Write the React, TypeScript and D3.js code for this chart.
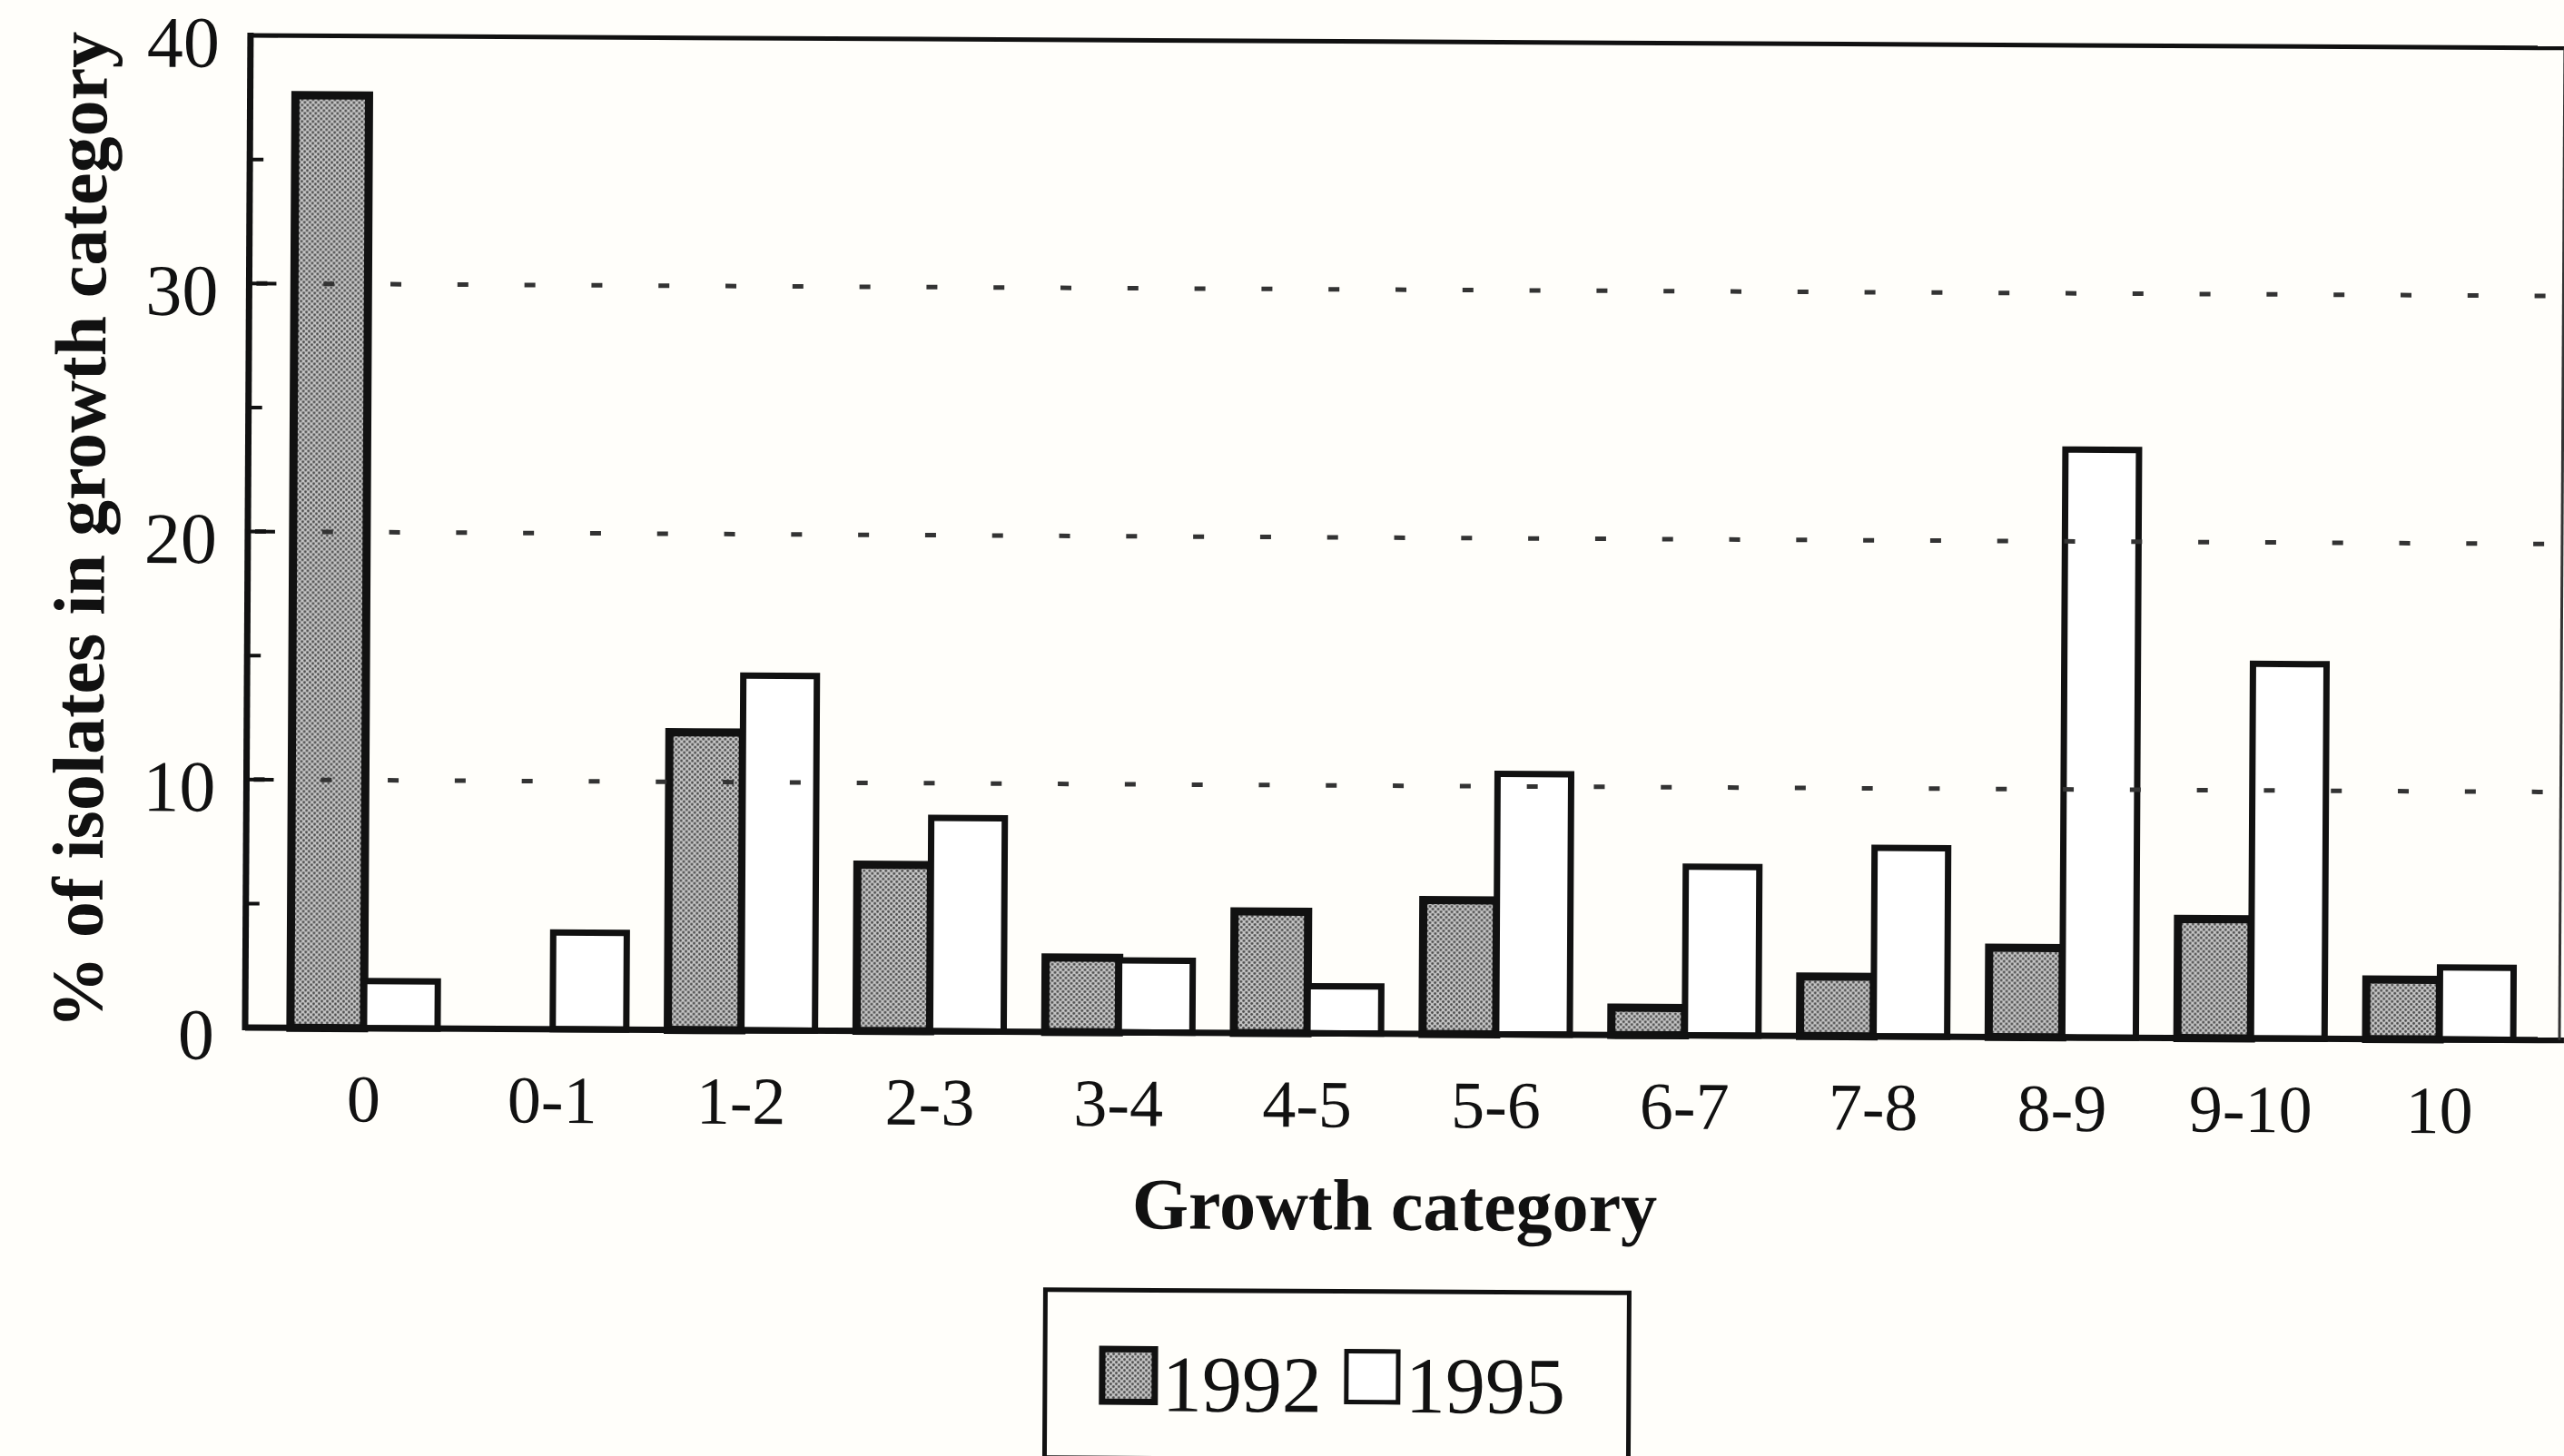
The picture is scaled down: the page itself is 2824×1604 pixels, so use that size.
import React from "react";
import * as d3 from "d3";

const categories = ["0", "0-1", "1-2", "2-3", "3-4", "4-5", "5-6", "6-7", "7-8", "8-9", "9-10", "10"];
const seriesNames = ["1992", "1995"];
const values1992 = [37.6, 0, 12.0, 6.7, 3.0, 4.9, 5.4, 1.1, 2.4, 3.6, 4.8, 2.4];
const values1995 = [1.9, 3.9, 14.3, 8.6, 2.9, 1.9, 10.5, 6.8, 7.6, 23.7, 15.1, 2.9];
const yMajorTicks = [0, 10, 20, 30, 40];
const yMinorTicks = [5, 15, 25, 35];
const gridTicks = [10, 20, 30];
const xTitle = "Growth category";
const yTitle = "% of isolates in growth category";

const W = 2824;
const H = 1604;
const FONT = "'Liberation Serif', 'Times New Roman', Times, serif";

export default function App() {
  const left = 270;
  const right = 2819;
  const top = 39;
  const bottom = 1132;

  const y = d3.scaleLinear().domain([0, 40]).range([bottom, top]);
  const x0 = d3
    .scaleBand<string>()
    .domain(categories)
    .range([297, 2791])
    .paddingInner(0.22)
    .paddingOuter(0.11);
  const x1 = d3.scaleBand<string>().domain(seriesNames).range([0, x0.bandwidth()]);

  const rows = categories.map((c, i) => ({ c, v: [values1992[i], values1995[i]] }));

  return (
    <div style={{ position: "absolute", left: 0, top: 0, width: W, height: H, background: "#fffefa" }}>
      <svg width={W} height={H} viewBox={`0 0 ${W} ${H}`} style={{ display: "block" }}>
        <defs>
          <pattern id="stipple" width="6" height="6" patternUnits="userSpaceOnUse">
            <rect width="6" height="6" fill="#c4c4c4" />
            <circle cx="1.5" cy="1.5" r="1.4" fill="#4a4a4a" />
            <circle cx="4.5" cy="4.5" r="1.4" fill="#4a4a4a" />
          </pattern>
        </defs>
        <rect width={W} height={H} fill="#fffefa" />
        <g transform={`rotate(0.31, ${left}, ${bottom})`}>
          {/* bars */}
          {rows.map((r) => (
            <g key={r.c} transform={`translate(${x0(r.c)},0)`}>
              {seriesNames.map((s, j) =>
                r.v[j] > 0 ? (
                  <rect
                    key={s}
                    x={x1(s)}
                    y={y(r.v[j])}
                    width={x1.bandwidth()}
                    height={y(0) - y(r.v[j])}
                    fill={j === 0 ? "url(#stipple)" : "#ffffff"}
                    stroke="#111"
                    strokeWidth={j === 0 ? 9 : 7}
                  />
                ) : null
              )}
            </g>
          ))}

          {/* dashed gridlines */}
          {gridTicks.map((t) => (
            <line
              key={t}
              x1={left}
              x2={right}
              y1={y(t)}
              y2={y(t)}
              stroke="#333"
              strokeWidth={5}
              strokeDasharray="12 61.8"
              strokeDashoffset={-8}
            />
          ))}

          {/* frame */}
          <line x1={left} x2={left} y1={top - 3} y2={bottom + 3} stroke="#111" strokeWidth={7} />
          <line x1={left} x2={W} y1={top} y2={top} stroke="#111" strokeWidth={5} />
          <line x1={left} x2={W} y1={bottom} y2={bottom} stroke="#111" strokeWidth={7} />
          <line x1={right} x2={right} y1={top} y2={bottom} stroke="#333" strokeWidth={3} />

          {/* ticks */}
          {yMajorTicks.map((t) => (
            <line key={"M" + t} x1={left} x2={left + 30} y1={y(t)} y2={y(t)} stroke="#111" strokeWidth={4} />
          ))}
          {yMinorTicks.map((t) => (
            <line key={"m" + t} x1={left} x2={left + 15} y1={y(t)} y2={y(t)} stroke="#111" strokeWidth={4} />
          ))}

          {/* y tick labels */}
          {yMajorTicks.map((t) => (
            <text key={"l" + t} x={236} y={y(t) + 35} textAnchor="end" fontFamily={FONT} fontSize={80} fill="#111">
              {t}
            </text>
          ))}

          {/* x tick labels */}
          {categories.map((c) => (
            <text
              key={"x" + c}
              x={(x0(c) as number) + x0.bandwidth() / 2}
              y={1235}
              textAnchor="middle"
              fontFamily={FONT}
              fontSize={74}
              fill="#111"
            >
              {c}
            </text>
          ))}

          {/* axis titles */}
          <text x={1537} y={1348} textAnchor="middle" fontFamily={FONT} fontWeight="bold" fontSize={80} fill="#111">
            {xTitle}
          </text>
          <text
            transform={`translate(112, 585) rotate(-90)`}
            textAnchor="middle"
            fontFamily={FONT}
            fontWeight="bold"
            fontSize={80}
            fill="#111"
          >
            {yTitle}
          </text>

          {/* legend */}
          <rect x={1153} y={1416} width={643} height={185} fill="none" stroke="#111" strokeWidth={5} />
          <rect x={1216} y={1481} width={58} height={58} fill="url(#stipple)" stroke="#111" strokeWidth={7} />
          <text x={1282} y={1549} fontFamily={FONT} fontSize={88} fill="#111">
            {seriesNames[0]}
          </text>
          <rect x={1485} y={1482} width={57} height={56} fill="#fff" stroke="#111" strokeWidth={5} />
          <text x={1550} y={1549} fontFamily={FONT} fontSize={88} fill="#111">
            {seriesNames[1]}
          </text>
        </g>
      </svg>
    </div>
  );
}
